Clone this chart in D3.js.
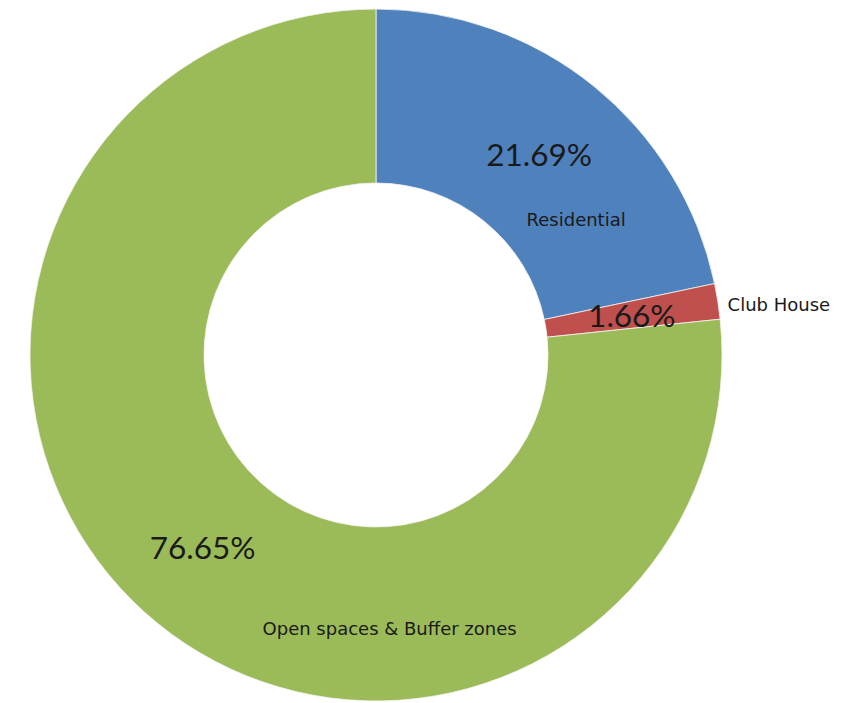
<!DOCTYPE html>
<html>
<head>
<meta charset="utf-8">
<script src="https://cdn.jsdelivr.net/npm/d3@7"></script>
<style>
  body { margin: 0; background: #fff; }
  svg { display: block; }
  .pct { font-family: Lato, "Open Sans", sans-serif; font-size: 31.5px; fill: #1a1a1a; }
  .name { font-family: "DejaVu Sans", Verdana, sans-serif; font-size: 18px; fill: #1a1a1a; }
</style>
</head>
<body>
<svg id="chart"></svg>
<script>
// Land use share (percent of total area)
var categories = ['Residential', 'Club House', 'Open spaces & Buffer zones'];
var values = [21.69, 1.66, 76.65];
var colors = ['#4F81BD', '#C0504D', '#9BBB59'];

// category name placement, as offset from the slice centroid
var nameOffsets = [[37, 66], [147, -10], [187, 81]];

var w = 845, h = 703;
var cx = 376, cy = 355;
var outerR = 346, innerR = 172;

var svg = d3.select('#chart')
    .attr('width', w)
    .attr('height', h);

var g = svg.append('g')
    .attr('transform', 'translate(' + cx + ',' + cy + ')');

var data = categories.map(function(c, i) {
    return { name: c, value: values[i], color: colors[i], off: nameOffsets[i] };
});

var pie = d3.pie()
    .sort(null)
    .value(function(d) { return d.value; });

var arc = d3.arc()
    .innerRadius(innerR)
    .outerRadius(outerR);

var arcs = pie(data);

g.selectAll('path.slice')
    .data(arcs)
    .join('path')
    .classed('slice', true)
    .attr('d', arc)
    .attr('fill', function(d) { return d.data.color; })
    .attr('stroke', '#f4f4f4')
    .attr('stroke-width', 0.8);

// percentage labels sit on the slice centroid
g.selectAll('text.pct')
    .data(arcs)
    .join('text')
    .classed('pct', true)
    .attr('text-anchor', 'middle')
    .attr('dominant-baseline', 'central')
    .attr('x', function(d) { return arc.centroid(d)[0]; })
    .attr('y', function(d) { return arc.centroid(d)[1]; })
    .text(function(d) { return d.data.value.toFixed(2) + '%'; });

g.selectAll('text.name')
    .data(arcs)
    .join('text')
    .classed('name', true)
    .attr('text-anchor', 'middle')
    .attr('dominant-baseline', 'central')
    .attr('x', function(d) { return arc.centroid(d)[0] + d.data.off[0]; })
    .attr('y', function(d) { return arc.centroid(d)[1] + d.data.off[1]; })
    .text(function(d) { return d.data.name; });
</script>
</body>
</html>
